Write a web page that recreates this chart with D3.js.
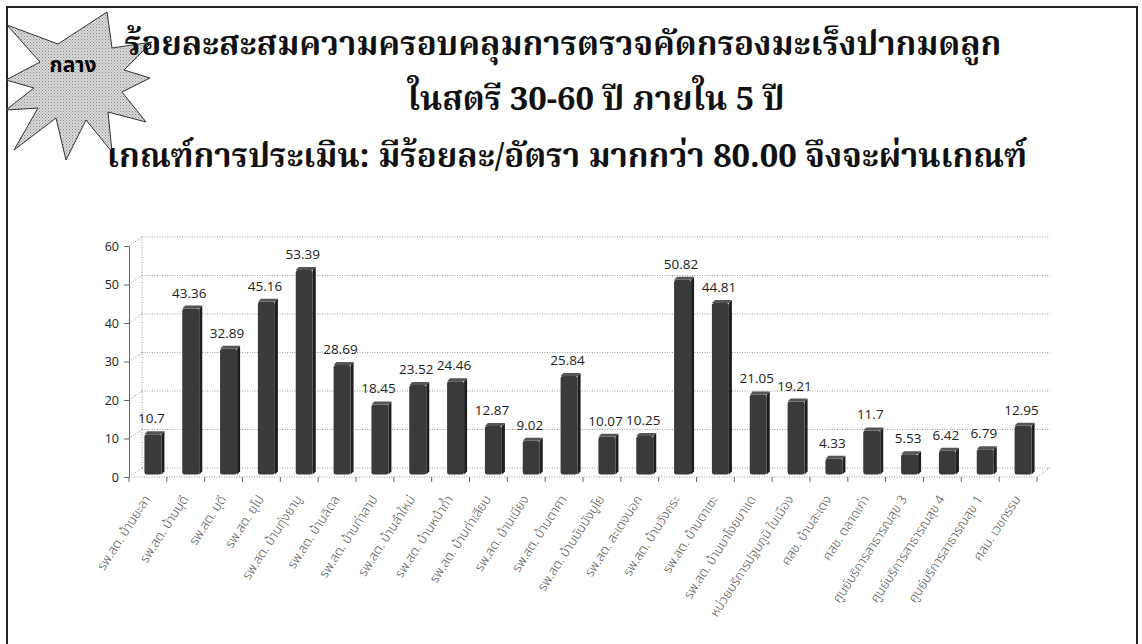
<!DOCTYPE html>
<html>
<head>
<meta charset="utf-8">
<script src="https://cdn.jsdelivr.net/npm/d3@7"></script>
<style>
  body { margin: 0; background: #fff; }
  svg { display: block; }
</style>
</head>
<body>
<div id="chart"></div>
<script>
// chart data
var categories = [
  "รพ.สต. บ้านยะลา", "รพ.สต. บ้านบุดี", "รพ.สต. บุดี", "รพ.สต. ยุโป",
  "รพ.สต. บ้านทุ่งยามู", "รพ.สต. บ้านลิดล", "รพ.สต. บ้านท่าสาป", "รพ.สต. บ้านลำใหม่",
  "รพ.สต. บ้านหน้าถ้ำ", "รพ.สต. บ้านท่าเสียบ", "รพ.สต. บ้านเนียง", "รพ.สต. บ้านตาศา",
  "รพ.สต. บ้านบันนังบูโย", "รพ.สต. สะเตงนอก", "รพ.สต. บ้านวังกระ", "รพ.สต. บ้านตาเซะ",
  "รพ.สต. บ้านบาโงยบาแด", "หน่วยบริการปฐมภูมิ ในเมือง", "ศสช. บ้านสะเตง", "ศสช. ตลาดเก่า",
  "ศูนย์บริการสาธารณสุข 3", "ศูนย์บริการสาธารณสุข 4", "ศูนย์บริการสาธารณสุข 1", "ศสม. เวชกรรม"
];
var values = [
  10.7, 43.36, 32.89, 45.16, 53.39, 28.69, 18.45, 23.52,
  24.46, 12.87, 9.02, 25.84, 10.07, 10.25, 50.82, 44.81,
  21.05, 19.21, 4.33, 11.7, 5.53, 6.42, 6.79, 12.95
];
var yTicks = [0, 10, 20, 30, 40, 50, 60];
var titleLines = [
  "ร้อยละสะสมความครอบคลุมการตรวจคัดกรองมะเร็งปากมดลูก",
  "ในสตรี 30-60 ปี ภายใน 5 ปี",
  "เกณฑ์การประเมิน: มีร้อยละ/อัตรา มากกว่า 80.00 จึงจะผ่านเกณฑ์"
];
var badgeText = "กลาง";

var W = 1142, H = 644;
var thaiSerif = "'Noto Serif Thai','Noto Sans Thai','Loma','Garuda',serif";
var thaiSans = "'Noto Sans Thai','Loma','Garuda','Noto Sans',sans-serif";

var svg = d3.select("#chart").append("svg")
    .attr("width", W)
    .attr("height", H);

// frame round the slide
svg.append("rect")
    .attr("x", 7).attr("y", 7)
    .attr("width", 1130).attr("height", 660)
    .attr("fill", "none")
    .attr("stroke", "#222")
    .attr("stroke-width", 2);

// hatch pattern for the badge
var defs = svg.append("defs");
var pat = defs.append("pattern")
    .attr("id", "hatch")
    .attr("width", 3).attr("height", 3)
    .attr("patternUnits", "userSpaceOnUse");
pat.append("rect").attr("width", 3).attr("height", 3).attr("fill", "#dadada");
pat.append("rect").attr("width", 1).attr("height", 1).attr("fill", "#888");
pat.append("rect").attr("x", 1.5).attr("y", 1.5).attr("width", 1).attr("height", 1).attr("fill", "#999");

// starburst badge
var star = [
  [7, 25], [58, 44], [107, 12], [112, 48], [152, 42], [124, 70],
  [150, 78], [122, 92], [146, 122], [108, 112], [112, 152], [86, 120],
  [66, 160], [56, 118], [14, 150], [38, 108], [6, 110], [34, 88],
  [6, 80], [40, 62]
];
svg.append("path")
    .attr("d", d3.line()(star) + "Z")
    .attr("fill", "url(#hatch)")
    .attr("stroke", "#333")
    .attr("stroke-width", 1);
svg.append("text")
    .attr("x", 73).attr("y", 72)
    .attr("text-anchor", "middle")
    .style("font-family", thaiSans)
    .style("font-weight", "bold")
    .style("font-size", "21px")
    .text(badgeText);

// title
var titlePos = [[563, 55], [596, 110], [567, 167]];
svg.selectAll(".title")
    .data(titleLines)
    .enter().append("text")
    .attr("class", "title")
    .attr("x", function(d, i) { return titlePos[i][0]; })
    .attr("y", function(d, i) { return titlePos[i][1]; })
    .attr("text-anchor", "middle")
    .style("font-family", thaiSerif)
    .style("font-weight", "bold")
    .style("font-size", "33px")
    .style("fill", "#111")
    .text(function(d) { return d; });

// scales
var x = d3.scaleBand()
    .domain(categories)
    .range([129, 1037]);
var y = d3.scaleLinear()
    .domain([0, 60])
    .range([477, 246]);

var dx = 13, dy = -9; // depth of the 3d box
var gridColor = "#9a9a9a";

var g = svg.append("g");

// back wall grid + side wall diagonals
yTicks.forEach(function(t) {
  g.append("line")
      .attr("x1", 129).attr("y1", y(t))
      .attr("x2", 129 + dx).attr("y2", y(t) + dy)
      .attr("stroke", gridColor).attr("stroke-dasharray", "1,1.5");
  g.append("line")
      .attr("x1", 129 + dx).attr("y1", y(t) + dy)
      .attr("x2", 1037 + dx).attr("y2", y(t) + dy)
      .attr("stroke", gridColor).attr("stroke-dasharray", "1,1.5");
});
g.append("line")
    .attr("x1", 129 + dx).attr("y1", y(60) + dy)
    .attr("x2", 129 + dx).attr("y2", y(0) + dy)
    .attr("stroke", gridColor).attr("stroke-dasharray", "1,1.5");
// floor front edge and right edge
g.append("line")
    .attr("x1", 129).attr("y1", y(0))
    .attr("x2", 1037).attr("y2", y(0))
    .attr("stroke", gridColor).attr("stroke-dasharray", "1,1.5");
g.append("line")
    .attr("x1", 1037).attr("y1", y(0))
    .attr("x2", 1037 + dx).attr("y2", y(0) + dy)
    .attr("stroke", gridColor).attr("stroke-dasharray", "1,1.5");

// y axis
var yAxis = g.append("g")
    .attr("transform", "translate(129,0)")
    .call(d3.axisLeft(y).tickValues(yTicks).tickSize(5).tickSizeOuter(0));
yAxis.select(".domain").attr("stroke", "#666");
yAxis.selectAll(".tick line").attr("stroke", "#666");
yAxis.selectAll(".tick text")
    .attr("x", -10)
    .style("font-family", "'Open Sans', sans-serif")
    .style("font-size", "12.5px")
    .style("fill", "#222");

// x ticks at band edges
var edges = categories.map(function(c) { return x(c); }).concat([x.range()[1]]);
g.selectAll(".xtick")
    .data(edges)
    .enter().append("line")
    .attr("class", "xtick")
    .attr("x1", function(d) { return d; })
    .attr("x2", function(d) { return d; })
    .attr("y1", y(0))
    .attr("y2", y(0) + 5)
    .attr("stroke", "#666");

// bars, drawn at half depth
var half = function(v) { return v / 2; };
var bars = g.selectAll(".bar")
    .data(values)
    .enter().append("g")
    .attr("class", "bar")
    .attr("transform", function(d, i) {
      return "translate(" + (x(categories[i]) + x.bandwidth() / 2 + half(dx)) + ",0)";
    });

var base = y(0) + half(dy) + 2;
bars.append("path")
    .attr("d", function(d) {
      var top = y(d) + half(dy);
      return "M7," + (top + 3) + "L10," + top + "L10," + (base - 3) + "L7," + base + "Z";
    })
    .attr("fill", "#1e1e1e");
bars.append("rect")
    .attr("x", -10)
    .attr("y", function(d) { return y(d) + half(dy) + 3; })
    .attr("width", 17)
    .attr("height", function(d) { return base - (y(d) + half(dy) + 3); })
    .attr("rx", 2.5)
    .attr("fill", "#3a3a3a");
bars.append("path")
    .attr("d", function(d) {
      var top = y(d) + half(dy);
      return "M-10," + (top + 3) + "L-7," + top + "L10," + top + "L7," + (top + 3) + "Z";
    })
    .attr("fill", "#555");

// value labels
bars.append("text")
    .attr("x", -3)
    .attr("y", function(d) { return y(d) + half(dy) - 8; })
    .attr("text-anchor", "middle")
    .style("font-family", "'Open Sans', sans-serif")
    .style("font-size", "13.5px")
    .style("fill", "#222")
    .text(function(d) { return d; });

// category labels, rotated
g.selectAll(".xlabel")
    .data(categories)
    .enter().append("text")
    .attr("class", "xlabel")
    .attr("transform", function(d) {
      return "translate(" + (x(d) + x.bandwidth() / 2 + 3) + "," + (y(0) + 22) + ") rotate(-57)";
    })
    .attr("text-anchor", "end")
    .style("font-family", thaiSans)
    .style("font-weight", "300")
    .style("font-size", "13px")
    .style("fill", "#555")
    .text(function(d) { return d; });
</script>
</body>
</html>
